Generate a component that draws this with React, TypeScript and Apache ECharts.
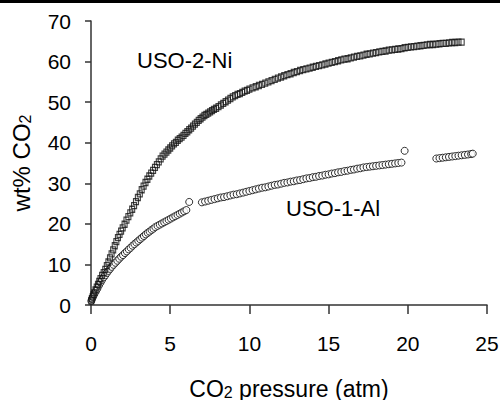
import React, { useEffect, useRef } from "react";
import * as echarts from "echarts";

// USO-2-Ni uptake (pressure atm, wt% CO2)
const niPressure = [
  0.02, 0.05, 0.1, 0.15, 0.2, 0.28, 0.36, 0.44, 0.52, 0.6, 0.7, 0.8, 0.9, 1.0, 1.1, 1.2, 1.3, 1.4, 1.5, 1.6,
  1.7, 1.8, 1.9, 2.0, 2.12, 2.24, 2.36, 2.48, 2.6, 2.72, 2.84, 2.96, 3.08, 3.2, 3.32, 3.44, 3.56, 3.68, 3.8, 3.92,
  4.04, 4.16, 4.28, 4.4, 4.52, 4.64, 4.76, 4.88, 5.0, 5.12, 5.24, 5.36, 5.48, 5.6, 5.72, 5.84, 5.96, 6.08, 6.2, 6.32,
  6.44, 6.56, 6.68, 6.8, 6.92, 7.04, 7.16, 7.28, 7.4, 7.52, 7.64, 7.76, 7.9, 8.05, 8.2, 8.35, 8.5, 8.65, 8.8, 8.95,
  9.1, 9.25, 9.4, 9.55, 9.7, 9.85, 10.0, 10.2, 10.4, 10.6, 10.8, 11.0, 11.2, 11.4, 11.6, 11.8, 12.0, 12.2, 12.4, 12.6,
  12.8, 13.0, 13.2, 13.4, 13.6, 13.8, 14.0, 14.2, 14.4, 14.6, 14.8, 15.0, 15.2, 15.4, 15.6, 15.8, 16.0, 16.2, 16.4, 16.6,
  16.8, 17.0, 17.2, 17.4, 17.6, 17.8, 18.0, 18.2, 18.4, 18.6, 18.8, 19.0, 19.2, 19.4, 19.6, 19.8, 20.0, 20.2, 20.4, 20.6,
  20.8, 21.0, 21.2, 21.4, 21.6, 21.8, 22.0, 22.2, 22.4, 22.6, 22.8, 23.0, 23.2, 23.4,
];
const niUptake = [
  1.0, 1.5, 2.0, 2.5, 3.0, 3.7, 4.4, 5.1, 5.8, 6.5, 7.3, 8.0, 8.8, 9.7, 10.6, 11.6, 12.6, 13.6, 14.6, 15.6,
  16.6, 17.4, 18.2, 19.0, 19.9, 20.9, 21.8, 22.7, 23.6, 24.5, 25.5, 26.5, 27.4, 28.4, 29.3, 30.2, 31.0, 31.8, 32.5, 33.2,
  33.9, 34.6, 35.3, 36.0, 36.7, 37.2, 37.7, 38.2, 38.7, 39.2, 39.7, 40.1, 40.6, 41.0, 41.4, 41.8, 42.3, 42.7, 43.2, 43.6,
  44.1, 44.6, 45.0, 45.5, 45.9, 46.3, 46.7, 47.0, 47.3, 47.6, 47.9, 48.2, 48.5, 48.9, 49.3, 49.7, 50.1, 50.5, 50.9, 51.3,
  51.6, 51.9, 52.1, 52.4, 52.7, 52.9, 53.2, 53.5, 53.8, 54.1, 54.4, 54.7, 55.0, 55.3, 55.6, 55.9, 56.2, 56.5, 56.8, 57.0,
  57.3, 57.5, 57.8, 58.0, 58.2, 58.4, 58.6, 58.8, 59.0, 59.2, 59.4, 59.6, 59.8, 60.0, 60.2, 60.4, 60.6, 60.7, 60.9, 61.1,
  61.3, 61.4, 61.6, 61.8, 61.9, 62.1, 62.2, 62.4, 62.5, 62.6, 62.8, 62.9, 63.0, 63.1, 63.2, 63.4, 63.5, 63.6, 63.7, 63.8,
  63.9, 64.0, 64.1, 64.2, 64.2, 64.3, 64.4, 64.5, 64.5, 64.6, 64.7, 64.7, 64.8, 64.8,
];

// USO-1-Al uptake (pressure atm, wt% CO2)
const alPressure = [
  0.02, 0.06, 0.12, 0.2, 0.3, 0.4, 0.5, 0.6, 0.7, 0.8, 0.9, 1.0, 1.1, 1.2, 1.3, 1.42, 1.54, 1.66, 1.78, 1.9,
  2.02, 2.14, 2.26, 2.38, 2.5, 2.62, 2.74, 2.86, 2.98, 3.1, 3.22, 3.34, 3.46, 3.58, 3.7, 3.82, 3.94, 4.06, 4.2, 4.34,
  4.48, 4.62, 4.76, 4.9, 5.04, 5.18, 5.32, 5.46, 5.6, 5.74, 5.88, 6.02, 6.2,
  7.0, 7.2, 7.4, 7.6, 7.8, 8.0, 8.2, 8.4, 8.6, 8.8, 9.0, 9.2, 9.4, 9.6, 9.8, 10.0, 10.2, 10.4, 10.6, 10.8,
  11.0, 11.2, 11.4, 11.6, 11.8, 12.0, 12.2, 12.4, 12.6, 12.8, 13.0, 13.2, 13.4, 13.6, 13.8, 14.0, 14.2, 14.4, 14.6, 14.8,
  15.0, 15.2, 15.4, 15.6, 15.8, 16.0, 16.2, 16.4, 16.6, 16.8, 17.0, 17.2, 17.4, 17.6, 17.8, 18.0, 18.2, 18.4, 18.6, 18.8,
  19.0, 19.2, 19.4, 19.6, 19.8,
  21.8, 22.0, 22.2, 22.4, 22.6, 22.8, 23.0, 23.2, 23.4, 23.6, 23.8, 24.0, 24.1,
];
const alUptake = [
  1.0, 1.5, 2.0, 2.6, 3.3, 4.0, 4.8, 5.5, 6.2, 6.8, 7.3, 7.9, 8.4, 8.9, 9.4, 9.9, 10.4, 10.9, 11.4, 11.9,
  12.3, 12.8, 13.2, 13.7, 14.1, 14.6, 15.0, 15.4, 15.8, 16.2, 16.6, 17.0, 17.4, 17.8, 18.1, 18.5, 18.8, 19.2, 19.5, 19.8,
  20.1, 20.4, 20.7, 21.0, 21.3, 21.6, 21.9, 22.2, 22.5, 22.8, 23.1, 23.4, 25.4,
  25.3, 25.5, 25.7, 25.9, 26.1, 26.3, 26.5, 26.6, 26.8, 27.0, 27.2, 27.3, 27.5, 27.7, 27.9, 28.1, 28.3, 28.5, 28.7, 28.9,
  29.0, 29.2, 29.4, 29.6, 29.7, 29.9, 30.1, 30.2, 30.4, 30.5, 30.7, 30.8, 31.0, 31.2, 31.3, 31.5, 31.6, 31.8, 31.9, 32.1,
  32.2, 32.4, 32.5, 32.7, 32.8, 33.0, 33.1, 33.3, 33.4, 33.6, 33.7, 33.9, 34.0, 34.1, 34.2, 34.3, 34.4, 34.5, 34.6, 34.7,
  34.8, 34.9, 35.0, 35.1, 38.0,
  36.1, 36.2, 36.3, 36.4, 36.5, 36.6, 36.7, 36.8, 36.9, 37.0, 37.1, 37.2, 37.3,
];

const xTicks = { min: 0, max: 25, interval: 5 };
const yTicks = { min: 0, max: 70, interval: 10 };
const seriesNames = ["USO-2-Ni", "USO-1-Al"];

const FONT = "Liberation Sans, Arial, sans-serif";

export default function App() {
  const ref = useRef<HTMLDivElement>(null);
  useEffect(() => {
    document.body.style.margin = "0";
    if (!ref.current) return;
    const chart = echarts.init(ref.current, null, { renderer: "svg" });
    const niData = niPressure.map((p, i) => [p, niUptake[i]]);
    const alData = alPressure.map((p, i) => [p, alUptake[i]]);
    const axisLine = { show: true, lineStyle: { color: "#333", width: 1.5 } };
    const subStyle = { fontSize: 16, fontFamily: FONT, color: "#000", verticalAlign: "bottom", padding: [7, 0, 0, 0] };
    chart.setOption({
      animation: false,
      backgroundColor: "#fff",
      textStyle: { fontFamily: FONT },
      grid: { left: 91, right: 13, top: 21, bottom: 95, outerBoundsMode: "none" },
      xAxis: {
        type: "value",
        ...xTicks,
        axisLine,
        axisTick: { show: true, length: 9, lineStyle: { color: "#333", width: 1.5 } },
        splitLine: { show: false },
        axisLabel: { color: "#000", fontSize: 21, fontFamily: FONT, margin: 28 },
        name: "CO{sub|2} pressure (atm)",
        nameLocation: "middle",
        nameGap: 72,
        nameTextStyle: { color: "#000", fontSize: 23, fontFamily: FONT, rich: { sub: subStyle } },
      },
      yAxis: {
        type: "value",
        ...yTicks,
        axisLine,
        axisTick: { show: true, length: 6, lineStyle: { color: "#333", width: 1.5 } },
        splitLine: { show: false },
        axisLabel: { color: "#000", fontSize: 21, fontFamily: FONT, margin: 20 },
        name: "wt% CO{sub|2}",
        nameLocation: "middle",
        nameRotate: 90,
        nameGap: 58,
        nameTextStyle: { color: "#000", fontSize: 24, fontFamily: FONT, rich: { sub: subStyle } },
      },
      graphic: [
        { type: "rect", left: 0, top: 0, shape: { width: 500, height: 3 }, style: { fill: "#000" } },
        { type: "text", left: 137, top: 49, style: { text: seriesNames[0], fontSize: 22, fontFamily: FONT, fill: "#000" } },
        { type: "text", left: 286, top: 197, style: { text: seriesNames[1], fontSize: 22, fontFamily: FONT, fill: "#000" } },
      ],
      series: [
        {
          name: seriesNames[1],
          type: "scatter",
          data: alData,
          symbol: "circle",
          symbolSize: 7,
          itemStyle: { color: "#fff", borderColor: "#000", borderWidth: 1 },
        },
        {
          name: seriesNames[0],
          type: "scatter",
          data: niData,
          symbol: "rect",
          symbolSize: [5, 6],
          itemStyle: { color: "rgba(255,255,255,0)", borderColor: "#111", borderWidth: 1.2 },
        },
      ],
    });
    return () => chart.dispose();
  }, []);
  return <div ref={ref} style={{ width: 500, height: 400 }} />;
}
